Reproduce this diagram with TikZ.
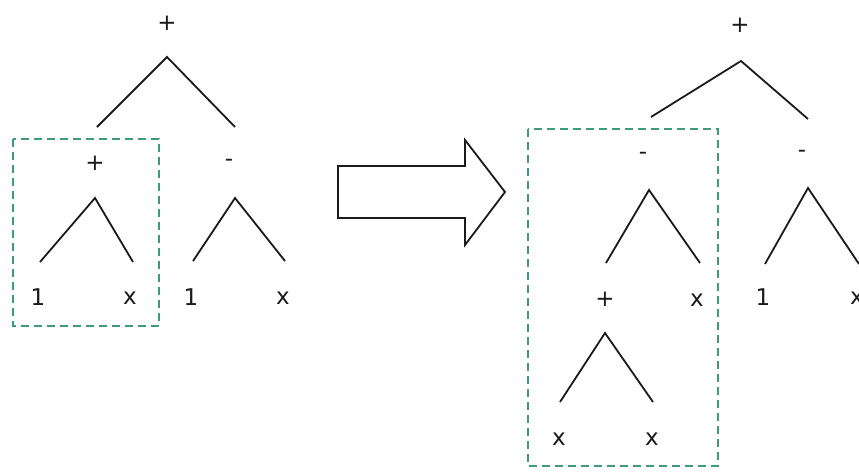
\documentclass[tikz,border=0pt]{standalone}
\usepackage{fontspec}
\setmainfont{DejaVu Sans}
\definecolor{boxgreen}{HTML}{3E9B78}
\definecolor{ink}{HTML}{1A1A1A}
\tikzset{
  lbl/.style={inner sep=0pt, font=\fontsize{23}{23}\selectfont, text=ink},
  edge/.style={draw=ink, line width=1.8pt},
  hbox/.style={draw=boxgreen, line width=1.9pt, dash pattern=on 8pt off 5pt},
  bigarrow/.style={draw=ink, line width=1.8pt, fill=white, line join=miter},
}
\begin{document}
\begin{tikzpicture}[x=1pt,y=-1pt]
\useasboundingbox (0,0) rectangle (859,471);
% ---------- left tree ----------
\node[lbl] (L) at (167,23) {+};
\coordinate (La) at (167,57);
\coordinate (Ll) at (97,127);
\coordinate (Lr) at (235,127);
\draw[edge] (Ll) -- (La) -- (Lr);
\coordinate (LB1) at (13,139);
\coordinate (LB2) at (159,326);
\draw[hbox] (LB1) rectangle (LB2);
\node[lbl] (LP) at (95,163) {+};
\coordinate (LPa) at (95,198);
\coordinate (LPl) at (40,262);
\coordinate (LPr) at (133,262);
\draw[edge] (LPl) -- (LPa) -- (LPr);
\node[lbl] (LP1) at (38,297) {1};
\node[lbl] (LPx) at (130,298) {x};
\node[lbl] (LM) at (229,163) {-};
\coordinate (LMa) at (235,198);
\coordinate (LMl) at (193,261);
\coordinate (LMr) at (285,261);
\draw[edge] (LMl) -- (LMa) -- (LMr);
\node[lbl] (LM1) at (191,297) {1};
\node[lbl] (LMx) at (283,298) {x};
% ---------- arrow ----------
\draw[bigarrow] (338,166) -- (465,166) -- (465,140) -- (505,192)
  -- (465,245) -- (465,218) -- (338,218) -- cycle;
% ---------- right tree ----------
\node[lbl] (R) at (740,25) {+};
\coordinate (Ra) at (741,61);
\coordinate (Rl) at (651,117);
\coordinate (Rr) at (808,119);
\draw[edge] (Rl) -- (Ra) -- (Rr);
\coordinate (RB1) at (528,129);
\coordinate (RB2) at (718,466);
\draw[hbox] (RB1) rectangle (RB2);
\node[lbl] (RM) at (643,156) {-};
\coordinate (RMa) at (649,190);
\coordinate (RMl) at (606,263);
\coordinate (RMr) at (700,263);
\draw[edge] (RMl) -- (RMa) -- (RMr);
\node[lbl] (RP) at (605,299) {+};
\node[lbl] (RMx) at (697,300) {x};
\coordinate (RPa) at (605,333);
\coordinate (RPl) at (560,402);
\coordinate (RPr) at (653,402);
\draw[edge] (RPl) -- (RPa) -- (RPr);
\node[lbl] (RPx1) at (559,439) {x};
\node[lbl] (RPx2) at (652,439) {x};
\node[lbl] (RN) at (802,154) {-};
\coordinate (RNa) at (808,188);
\coordinate (RNl) at (765,264);
\coordinate (RNr) at (859,264);
\draw[edge] (RNl) -- (RNa) -- (RNr);
\node[lbl] (RN1) at (763,297) {1};
\node[lbl] (RNx) at (857,298) {x};
\end{tikzpicture}
\end{document}
